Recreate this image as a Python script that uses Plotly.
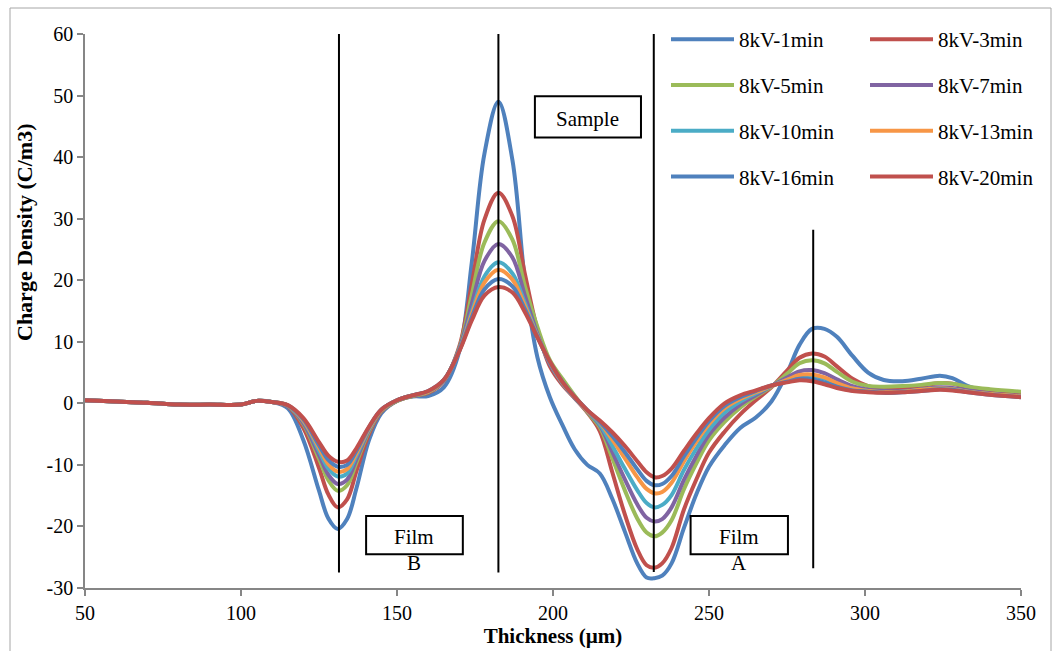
import plotly.graph_objects as go

# Sample depth (µm)
thickness = [50, 60, 70, 80, 90, 100, 105, 110, 115, 120, 125, 128, 131, 134, 137, 141, 145, 150,
             155, 160, 165, 170, 174, 178, 182.5, 187, 191, 195, 199, 203, 207, 211, 215, 219, 223,
             227, 230, 232.5, 235, 238, 242, 246, 250, 255, 260, 265, 270, 275, 279, 283, 287, 291,
             296, 301, 306, 312, 318, 324, 328, 333, 340, 350]

# Charge density (C/m3) after each poling time at 8 kV
q_1min = [0.5, 0.3, 0.1, -0.2, -0.2, -0.2, 0.4, 0.2,
          -0.8, -6.0, -14.2, -18.7, -20.4, -18.8, -13.8, -6.0, -1.6, 0.4,
          1.1, 1.2, 2.6, 8.5, 23.0, 40.5, 49.0, 39.5, 20.0, 7.5,
          1.0, -3.5, -7.5, -10.0, -11.4, -15.5, -20.8, -26.0, -28.3, -28.4,
          -28.0, -26.0, -20.2, -14.7, -10.3, -6.8, -4.0, -2.3, 0.3, 4.9,
          9.5, 12.1, 12.1, 10.8, 7.7, 5.0, 3.8, 3.6, 4.0, 4.5,
          4.1, 2.8, 1.8, 1.2]
q_3min = [0.5, 0.3, 0.1, -0.2, -0.2, -0.2, 0.4, 0.2,
          -0.5, -4.0, -10.5, -14.8, -16.9, -15.6, -11.0, -5.0, -1.3, 0.4,
          1.2, 1.7, 3.6, 9.3, 19.5, 29.8, 34.2, 30.4, 21.0, 12.0,
          6.0, 3.0, 0.8, -1.5, -4.5, -11.2, -18.0, -23.7, -26.3, -26.7,
          -26.0, -23.5, -17.2, -12.3, -8.0, -4.6, -1.8, 0.5, 2.6, 5.3,
          7.4, 8.1, 7.6, 6.0, 4.0, 2.8, 2.4, 2.4, 2.8, 3.3,
          3.2, 2.5, 1.8, 1.5]
q_5min = [0.5, 0.3, 0.1, -0.2, -0.2, -0.2, 0.4, 0.2,
          -0.4, -3.4, -9.0, -12.5, -14.2, -13.3, -9.6, -4.6, -1.2, 0.4,
          1.2, 1.8, 3.7, 9.0, 17.7, 26.1, 29.6, 26.6, 19.0, 12.4,
          7.0, 4.0, 1.2, -1.4, -3.9, -8.9, -14.1, -18.7, -21.0, -21.6,
          -21.0, -19.0, -13.9, -9.7, -6.0, -3.0, -0.7, 1.1, 2.7, 4.8,
          6.5, 7.0, 6.5, 5.1, 3.5, 2.8, 2.7, 2.8, 3.0, 3.3,
          3.2, 2.7, 2.3, 1.9]
q_7min = [0.5, 0.3, 0.1, -0.2, -0.2, -0.2, 0.4, 0.2,
          -0.4, -3.2, -8.4, -11.6, -13.1, -12.4, -9.1, -4.4, -1.1, 0.5,
          1.3, 1.9, 3.7, 8.9, 16.2, 23.1, 25.9, 23.7, 17.5, 11.3,
          6.4, 3.3, 0.9, -1.3, -3.6, -7.9, -12.3, -16.4, -18.6, -19.2,
          -18.8, -16.9, -12.4, -8.5, -5.1, -2.3, -0.2, 1.3, 2.8, 4.2,
          5.2, 5.4, 4.9, 3.9, 2.8, 2.2, 2.0, 2.0, 2.3, 2.6,
          2.5, 2.1, 1.6, 1.2]
q_10min = [0.5, 0.3, 0.1, -0.2, -0.2, -0.2, 0.4, 0.2,
           -0.4, -2.9, -7.7, -10.6, -11.9, -11.4, -8.5, -4.2, -1.1, 0.5,
           1.3, 1.9, 3.7, 8.7, 14.9, 20.6, 22.9, 21.1, 16.3, 11.0,
           6.6, 3.3, 0.9, -1.2, -3.4, -6.9, -10.6, -14.1, -16.2, -16.9,
           -16.5, -14.9, -10.8, -7.3, -4.3, -1.5, 0.3, 1.6, 2.8, 3.8,
           4.5, 4.5, 4.0, 3.2, 2.4, 2.0, 1.8, 1.9, 2.2, 2.4,
           2.3, 1.9, 1.5, 1.1]
q_13min = [0.5, 0.3, 0.1, -0.2, -0.2, -0.2, 0.4, 0.2,
           -0.3, -2.8, -7.2, -9.9, -11.1, -10.7, -8.1, -4.1, -1.1, 0.5,
           1.3, 1.9, 3.8, 8.6, 14.5, 19.6, 21.7, 20.1, 15.8, 10.9,
           6.7, 3.4, 1.0, -1.2, -3.1, -5.9, -8.9, -12.0, -13.9, -14.6,
           -14.4, -12.9, -9.4, -6.2, -3.4, -0.8, 0.7, 1.8, 2.8, 3.8,
           4.6, 4.7, 4.2, 3.3, 2.4, 2.0, 1.8, 1.9, 2.2, 2.4,
           2.3, 1.9, 1.5, 1.1]
q_16min = [0.5, 0.3, 0.1, -0.2, -0.2, -0.2, 0.4, 0.2,
           -0.3, -2.6, -6.8, -9.2, -10.3, -10.0, -7.7, -3.9, -1.0, 0.5,
           1.3, 2.0, 3.8, 8.6, 14.0, 18.5, 20.2, 19.0, 15.3, 10.8,
           6.7, 3.5, 1.0, -1.1, -3.0, -5.3, -7.9, -10.7, -12.6, -13.3,
           -13.1, -11.8, -8.6, -5.6, -2.9, -0.4, 1.0, 2.0, 2.9, 3.5,
           4.0, 3.9, 3.4, 2.7, 2.1, 1.9, 1.7, 1.8, 2.0, 2.3,
           2.2, 1.8, 1.4, 1.0]
q_20min = [0.5, 0.3, 0.1, -0.2, -0.2, -0.2, 0.4, 0.2,
           -0.3, -2.4, -6.3, -8.5, -9.5, -9.3, -7.3, -3.8, -1.0, 0.5,
           1.3, 2.0, 3.8, 8.5, 13.5, 17.5, 18.9, 18.0, 14.8, 10.7,
           6.8, 3.5, 1.0, -1.1, -2.8, -4.7, -6.9, -9.4, -11.2, -12.0,
           -11.8, -10.6, -7.7, -4.9, -2.4, 0.0, 1.3, 2.1, 2.9, 3.4,
           3.75, 3.6, 3.1, 2.5, 2.0, 1.8, 1.7, 1.8, 2.0, 2.2,
           2.1, 1.8, 1.4, 1.0]

series_names = ["8kV-1min", "8kV-3min", "8kV-5min", "8kV-7min",
                "8kV-10min", "8kV-13min", "8kV-16min", "8kV-20min"]
series_values = [q_1min, q_3min, q_5min, q_7min, q_10min, q_13min, q_16min, q_20min]
series_colors = ["#4F81BD", "#C0504D", "#9BBB59", "#8064A2",
                 "#4BACC6", "#F79646", "#4F81BD", "#C0504D"]
# left legend column holds 1, 5, 10, 16 min; right column 3, 7, 13, 20 min
series_legend = ["legend", "legend2", "legend", "legend2",
                 "legend", "legend2", "legend", "legend2"]

# electrode / interface markers (µm) and their vertical extent (C/m3)
interface_x = [131.4, 182.5, 232.3, 283.4]
interface_y0 = [-27.5, -27.5, -27.4, -26.8]
interface_y1 = [60, 60, 60, 28.2]

x_ticks = [50, 100, 150, 200, 250, 300, 350]
y_ticks = [-30, -20, -10, 0, 10, 20, 30, 40, 50, 60]

SERIF = "Liberation Serif, Times New Roman, serif"
AXIS_GREY = "#868686"

fig = go.Figure()
for name, vals, color, leg in zip(series_names, series_values, series_colors, series_legend):
    fig.add_trace(go.Scatter(
        x=thickness, y=vals, name=name, mode="lines",
        line=dict(color=color, width=4, shape="spline", smoothing=1.0),
        legend=leg, legendgroup=name,
    ))

for xv, y0, y1 in zip(interface_x, interface_y0, interface_y1):
    fig.add_shape(type="line", xref="x", yref="y", x0=xv, x1=xv, y0=y0, y1=y1,
                  line=dict(color="black", width=2))

# labelled boxes for the sample and the two films
boxes = [
    dict(x0=194.2, x1=228.2, y0=43.2, y1=49.9, text="Sample"),
    dict(x0=140.1, x1=171.1, y0=-24.5, y1=-18.3, text="Film"),
    dict(x0=244.1, x1=275.3, y0=-24.5, y1=-18.3, text="Film"),
]
for b in boxes:
    fig.add_shape(type="rect", xref="x", yref="y", x0=b["x0"], x1=b["x1"],
                  y0=b["y0"], y1=b["y1"], line=dict(color="black", width=2),
                  fillcolor="white")
    fig.add_annotation(x=(b["x0"] + b["x1"]) / 2, y=(b["y0"] + b["y1"]) / 2 - 0.3,
                       text=b["text"], showarrow=False, xref="x", yref="y",
                       font=dict(family=SERIF, size=21, color="black"))
fig.add_annotation(x=155.6, y=-25.9, text="B", showarrow=False,
                   font=dict(family=SERIF, size=21, color="black"))
fig.add_annotation(x=259.7, y=-25.9, text="A", showarrow=False,
                   font=dict(family=SERIF, size=21, color="black"))

# y-axis title, placed the way the original chart tool set it
fig.add_annotation(xref="paper", yref="paper", x=(25 - 85) / 936, y=(588 - 232) / 554,
                   text="<b>Charge Density (C/m3)</b>", textangle=-90, showarrow=False,
                   xanchor="center", yanchor="middle",
                   font=dict(family=SERIF, size=22, color="black"))

# outer chart frame
fig.add_shape(type="rect", xref="paper", yref="paper",
              x0=(10 - 85) / 936, x1=(1051 - 85) / 936,
              y0=(588 - 652) / 554, y1=(588 - 8) / 554,
              line=dict(color="#A6A6A6", width=1), fillcolor="rgba(0,0,0,0)", layer="below")

legend_common = dict(
    bgcolor="rgba(0,0,0,0)", borderwidth=0, itemwidth=63,
    font=dict(family=SERIF, size=21, color="black"),
    tracegroupgap=15.5, traceorder="grouped", orientation="v",
    xanchor="left", yanchor="top", y=1.027,
)

fig.update_layout(
    width=1055, height=651,
    margin=dict(l=85, r=34, t=34, b=63),
    paper_bgcolor="white", plot_bgcolor="white",
    font=dict(family=SERIF, size=20, color="black"),
    showlegend=True,
    legend=dict(x=(666 - 85) / 936, **legend_common),
    legend2=dict(x=(865 - 85) / 936, **legend_common),
    xaxis=dict(
        range=[50, 350], tickvals=x_ticks, ticktext=[str(v) for v in x_ticks],
        showgrid=False, zeroline=False, showline=True, linecolor=AXIS_GREY, linewidth=1.5,
        ticks="outside", ticklen=6, tickcolor=AXIS_GREY, tickwidth=1.5,
        tickfont=dict(family=SERIF, size=20, color="black"),
        title=dict(text="<b>Thickness (µm)</b>", standoff=0,
                   font=dict(family=SERIF, size=21, color="black")),
    ),
    yaxis=dict(
        range=[-30, 60], tickvals=y_ticks, ticktext=[str(v) for v in y_ticks],
        showgrid=False, zeroline=False, showline=True, linecolor=AXIS_GREY, linewidth=1.5,
        ticks="outside", ticklen=6, tickcolor=AXIS_GREY, tickwidth=1.5,
        tickfont=dict(family=SERIF, size=20, color="black"),
    ),
)

fig.write_html("out.html")
